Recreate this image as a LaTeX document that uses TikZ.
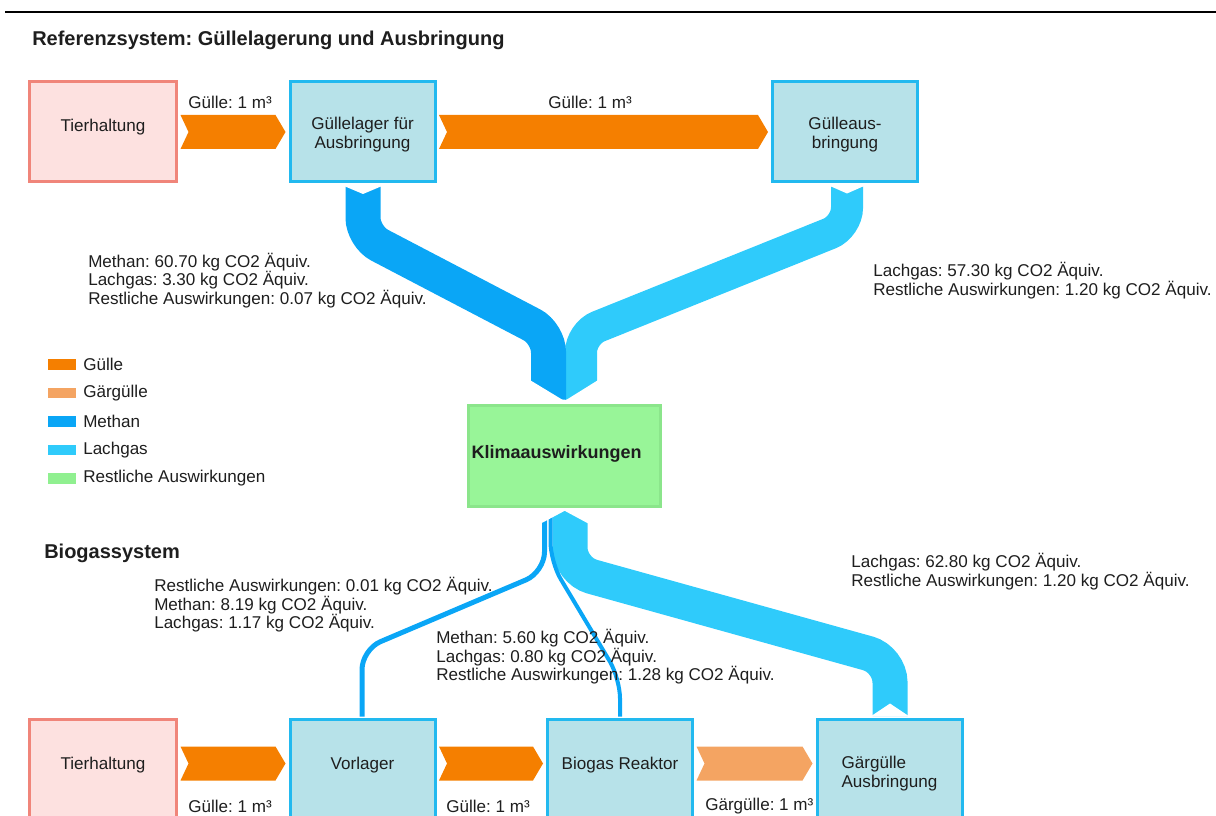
\documentclass[tikz,border=0pt]{standalone}
\usepackage{fontspec}
\setmainfont{Liberation Sans}
\usetikzlibrary{calc}
\frenchspacing

\definecolor{guelle}{HTML}{F57F00}
\definecolor{gaerguelle}{HTML}{F4A462}
\definecolor{methan}{HTML}{0AA6F6}
\definecolor{lachgas}{HTML}{2FCBFB}
\definecolor{restlich}{HTML}{90F090}
\definecolor{boxline}{HTML}{22B9EF}
\definecolor{boxfill}{HTML}{B7E2E9}
\definecolor{tierline}{HTML}{F0857A}
\definecolor{tierfill}{HTML}{FDE1E0}
\definecolor{klimafill}{HTML}{98F598}
\definecolor{klimaline}{HTML}{8BE58B}
\definecolor{ink}{HTML}{1E1E1E}

\newcommand{\lblfont}{\fontsize{12.8}{13.9}\selectfont}

% several lines of box text, lowered by #1 without changing the box size
\newcommand{\boxlines}[3]{\raisebox{#1}[\height][\depth]{\begin{tabular}{@{}#2@{}}#3\end{tabular}}}

% chevron flow between two boxes: from, to, colour, vertical offset
\newcommand{\flowarrow}[4]{%
  \fill[#3] ($(#1.east)+(2.5,#4-17)$) -- ($(#2.west)+(-13,#4-17)$)
    -- ($(#2.west)+(-3,#4)$) -- ($(#2.west)+(-13,#4+17)$)
    -- ($(#1.east)+(2.5,#4+17)$) -- ($(#1.east)+(10.5,#4)$) -- cycle;}

\begin{document}
\begin{tikzpicture}[x=0.75pt,y=-0.75pt,
  every node/.style={text=ink},
  lbl/.style={font=\lblfont, inner sep=0pt, align=left},
  heading/.style={font=\bfseries\fontsize{15}{17}\selectfont, inner sep=0pt},
  procbox/.style={draw=boxline, fill=boxfill, line width=2.25pt,
    minimum width=108.75pt, minimum height=75pt, inner sep=0pt,
    font=\lblfont},
  tierbox/.style={procbox, draw=tierline, fill=tierfill, minimum width=110.25pt},
  oneline/.style={text depth=9pt},
  klimabox/.style={draw=klimaline, fill=klimafill, line width=2.25pt,
    text width=139.5pt, inner xsep=2.25pt, minimum height=75.75pt,
    align=left, text depth=6.3pt,
    font=\bfseries\fontsize{13.5}{15}\selectfont},
  band/.style={line cap=butt, rounded corners=14pt},
  wideband/.style={line cap=butt, rounded corners=17pt},
  thinband/.style={line cap=butt, rounded corners=15pt},
  legsq/.style={minimum width=21pt, minimum height=8pt, inner sep=0pt}]

\useasboundingbox (0,0) rectangle (1216,816);
\clip (0,0) rectangle (1216,816);

% rule across the top
\draw[line width=1.9pt] (5,12) -- (1216,12);

% ---------- reference system ----------
\node[heading, anchor=west] (titleref) at (32,40) {Referenzsystem: Güllelagerung und Ausbringung};

\node[tierbox, oneline] (tierA) at (103,131.5) {Tierhaltung};
\node[procbox] (lager) at (362.5,131.5) {\boxlines{-3pt}{c}{Güllelager für\\Ausbringung}};
\node[procbox] (aus) at (845,131.5) {\boxlines{-3pt}{c}{Gülleaus-\\bringung}};

\flowarrow{tierA}{lager}{guelle}{0.5}
\flowarrow{lager}{aus}{guelle}{0.5}
\node[lbl, anchor=west] (gA1) at (188,102) {Gülle: 1 m³};
\node[lbl, anchor=west] (gA2) at (548,102) {Gülle: 1 m³};

\node[klimabox] (klima) at (564.5,456) {Klimaauswirkungen};

% emissions of the reference system
\draw[band, lachgas, line width=24pt]
  ($(aus.south)+(2,3.5)$) -- ++(0,40) -- ($(klima.north)+(16.5,-70.5)$)
  -- ($(klima.north)+(16.5,-4.5)$);
\draw[band, methan, line width=26.25pt]
  ($(lager.south)+(0.5,3.5)$) -- ++(0,50) -- ($(klima.north)+(-16,-70.5)$)
  -- ($(klima.north)+(-16,-4.5)$);
% tails and pointed end of the bands
\fill[white] ($(lager.south)+(-18.5,3)$) -- ($(lager.south)+(19.5,3)$) -- ($(lager.south)+(0.5,11)$) -- cycle;
\fill[white] ($(aus.south)+(-15,3)$) -- ($(aus.south)+(19,3)$) -- ($(aus.south)+(2,10.5)$) -- cycle;
\fill[white] ($(klima.north)+(0,-3)$) -- ($(klima.north)+(-35.5,-24.5)$) -- ($(klima.north)+(-35.5,-3)$) -- cycle;
\fill[white] ($(klima.north)+(0,-3)$) -- ($(klima.north)+(34.5,-24.5)$) -- ($(klima.north)+(34.5,-3)$) -- cycle;

\node[lbl, anchor=west] (refL) at (88,280.5) {Methan: 60.70 kg CO2 Äquiv.\\Lachgas: 3.30 kg CO2 Äquiv.\\Restliche Auswirkungen: 0.07 kg CO2 Äquiv.};
\node[lbl, anchor=west] (refR) at (873,280.5) {Lachgas: 57.30 kg CO2 Äquiv.\\Restliche Auswirkungen: 1.20 kg CO2 Äquiv.};

% ---------- legend ----------
\node[legsq, fill=guelle] (lsq1) at (62,364.5) {};
\node[legsq, fill=gaerguelle] (lsq2) at (62,393) {};
\node[legsq, fill=methan] (lsq3) at (62,421.5) {};
\node[legsq, fill=lachgas] (lsq4) at (62,450) {};
\node[legsq, fill=restlich] (lsq5) at (62,478.5) {};
\node[lbl, anchor=west] (lt1) at (83,364.5) {Gülle};
\node[lbl, anchor=west] (lt2) at (83,393) {Gärgülle};
\node[lbl, anchor=west] (lt3) at (83,421.5) {Methan};
\node[lbl, anchor=west] (lt4) at (83,450) {Lachgas};
\node[lbl, anchor=west] (lt5) at (83,478.5) {Restliche Auswirkungen};

% ---------- biogas system ----------
\node[heading, anchor=west] (titlebio) at (44,553) {Biogassystem};

\node[tierbox, oneline] (tierB) at (103,769.5) {Tierhaltung};
\node[procbox, oneline] (vor) at (362.5,769.5) {Vorlager};
\node[procbox, oneline] (reak) at (620,769.5) {Biogas Reaktor};
\node[procbox] (gaer) at (889.5,769.5) {\boxlines{-3.75pt}{l}{Gärgülle\\Ausbringung}};

\flowarrow{tierB}{vor}{guelle}{-6}
\flowarrow{vor}{reak}{guelle}{-6}
\flowarrow{reak}{gaer}{gaerguelle}{-6}
\node[lbl, anchor=west] (gB1) at (188,806) {Gülle: 1 m³};
\node[lbl, anchor=west] (gB2) at (446,806) {Gülle: 1 m³};
\node[lbl, anchor=west] (gB3) at (705,806) {Gärgülle: 1 m³};

% emissions of the biogas system
\draw[wideband, lachgas, line width=26.25pt]
  ($(klima.south)+(5.5,3)$) -- ($(klima.south)+(5.5,62.5)$)
  -- ($(gaer.north)+(0.5,-58.5)$) -- ($(gaer.north)+(0.5,-1.9)$);
\draw[thinband, methan, line width=3pt]
  ($(reak.north)+(0,-1.5)$) -- ++(0,-38) -- ($(klima.south)+(-14,54)$)
  -- ($(klima.south)+(-14,3)$);
\draw[thinband, methan, line width=3.75pt]
  ($(vor.north)+(-0.5,-1.5)$) -- ++(0,-67) -- ($(klima.south)+(-20,64)$)
  -- ($(klima.south)+(-20,3)$);
% pointed top of the bundle and notch above the spreading box
\fill[white] ($(klima.south)+(0.2,2.8)$) -- ($(klima.south)+(-26.5,2.8)$) -- ($(klima.south)+(-26.5,17)$) -- cycle;
\fill[white] ($(klima.south)+(0.2,2.8)$) -- ($(klima.south)+(26.5,2.8)$) -- ($(klima.south)+(26.5,17)$) -- cycle;
\fill[white] ($(gaer.north)+(-18.5,-1.8)$) -- ($(gaer.north)+(19.5,-1.8)$) -- ($(gaer.north)+(0.5,-14.5)$) -- cycle;

\node[lbl, anchor=west] (bioL) at (154,605) {Restliche Auswirkungen: 0.01 kg CO2 Äquiv.\\Methan: 8.19 kg CO2 Äquiv.\\Lachgas: 1.17 kg CO2 Äquiv.};
\node[lbl, anchor=west] (bioM) at (436,657) {Methan: 5.60 kg CO2 Äquiv.\\Lachgas: 0.80 kg CO2 Äquiv.\\Restliche Auswirkungen: 1.28 kg CO2 Äquiv.};
\node[lbl, anchor=west] (bioR) at (851,571.5) {Lachgas: 62.80 kg CO2 Äquiv.\\Restliche Auswirkungen: 1.20 kg CO2 Äquiv.};

\end{tikzpicture}
\end{document}
